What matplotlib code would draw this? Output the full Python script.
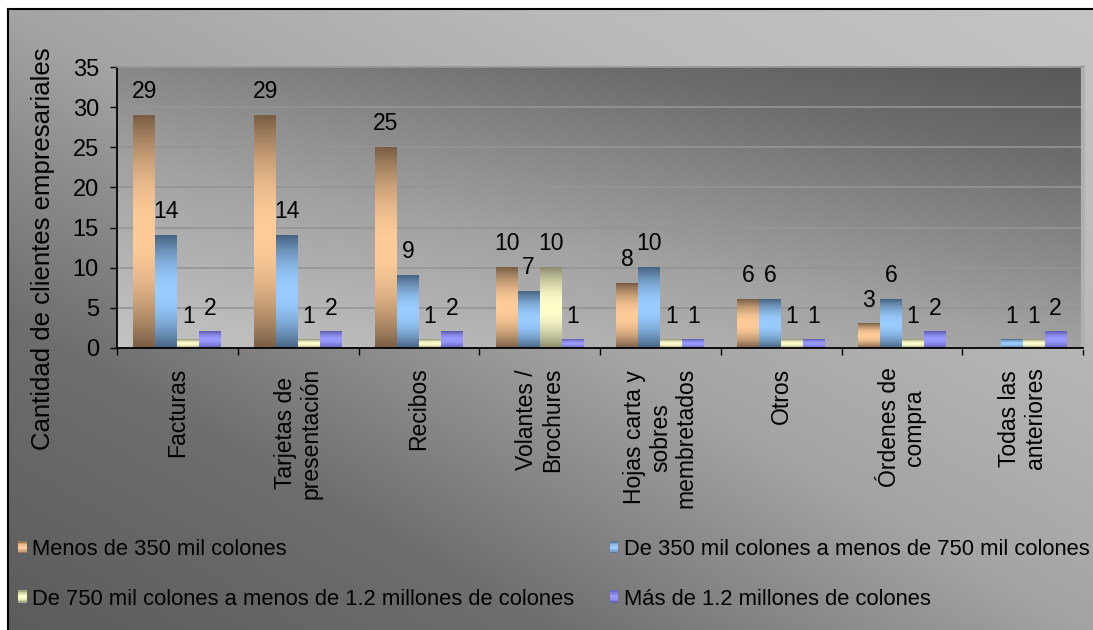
import numpy as np
import matplotlib
matplotlib.use("Agg")
import matplotlib.pyplot as plt
from matplotlib.patches import Rectangle, Patch
from matplotlib.legend_handler import HandlerBase
from matplotlib.lines import Line2D

plt.rcParams['font.family'] = ['Liberation Sans', 'DejaVu Sans']

# ---- data ----
categories = [
    'Facturas',
    'Tarjetas de\npresentación',
    'Recibos',
    'Volantes /\nBrochures',
    'Hojas carta y\nsobres\nmembretados',
    'Otros',
    'Órdenes de\ncompra',
    'Todas las\nanteriores',
]
series_names = [
    'Menos de 350 mil colones',
    'De 350 mil colones a menos de 750 mil colones',
    'De 750 mil colones a menos de 1.2 millones de colones',
    'Más de 1.2 millones de colones',
]
menos_350 = [29, 29, 25, 10, 8, 6, 3, 0]
de_350_a_750 = [14, 14, 9, 7, 10, 6, 6, 1]
de_750_a_1200 = [1, 1, 1, 10, 1, 1, 1, 1]
mas_1200 = [2, 2, 2, 1, 1, 1, 2, 2]
y_ticks = [0, 5, 10, 15, 20, 25, 30, 35]
y_label = 'Cantidad de clientes empresariales'

series = [menos_350, de_350_a_750, de_750_a_1200, mas_1200]
light_colors = [(255, 204, 153), (153, 204, 255), (255, 255, 204), (153, 153, 255)]
dark_colors = [(122, 95, 70), (72, 100, 130), (140, 140, 112), (90, 90, 170)]

W, H = 1093, 630
fig = plt.figure(figsize=(W / 100, H / 100), dpi=100)
fig.patch.set_facecolor('white')


def px_rect(x0, y0, x1, y1):
    return [x0 / W, 1 - y1 / H, (x1 - x0) / W, (y1 - y0) / H]


def shade_column(light, dark, n=64):
    t = np.linspace(0, 1, n)
    w = np.sin(np.pi * t) ** 0.9
    light = np.array(light) / 255
    dark = np.array(dark) / 255
    col = dark[None, :] + (light - dark)[None, :] * w[:, None]
    return col[:, None, :]


def shade_at(light, dark, t):
    w = np.sin(np.pi * t) ** 0.9
    light = np.array(light) / 255
    dark = np.array(dark) / 255
    return tuple(dark + (light - dark) * w)


# ---- chart area background ----
bg = fig.add_axes(px_rect(8, 9, W, H), zorder=-10)
bg.set_axis_off()
u = np.linspace(0, 1, 400)[None, :]
v = np.linspace(1, 0, 250)[:, None]
g = np.interp((u + v) / 2, [0, 0.25, 0.5, 0.75, 1], [92, 110, 164, 186, 196]) / 255
bg.imshow(np.dstack([g, g, g]), extent=(0, 1, 0, 1), aspect='auto', interpolation='bilinear')
bg.set_xlim(0, 1)
bg.set_ylim(0, 1)

# outer frame (left and top edges)
fig.add_artist(Line2D([8 / W, 8 / W], [0, 1 - 9 / H], transform=fig.transFigure, color='black', lw=1.5))
fig.add_artist(Line2D([8 / W, 1], [1 - 9 / H, 1 - 9 / H], transform=fig.transFigure, color='black', lw=1.5))

# ---- plot area ----
ax = fig.add_axes(px_rect(117, 67, 1083, 348))
ax.patch.set_visible(False)
n_cat = len(categories)
pu = np.linspace(0, 1, 400)[None, :]
pv = np.linspace(1, 0, 250)[:, None]
pg = np.interp(0.4 * pu + 0.6 * pv, [0, 0.4, 0.6, 0.8, 1], [196, 162, 136, 108, 88]) / 255
ax.imshow(np.dstack([pg, pg, pg]), extent=(0, n_cat, 0, 35), aspect='auto',
          interpolation='bilinear', zorder=0)

ax.set_axisbelow(True)
ax.set_yticks(y_ticks)
ax.yaxis.grid(True, color='#959595', lw=1.2)

bar_w = 0.182
centers = np.arange(n_cat) + 0.5
for k, vals in enumerate(series):
    xs = centers + (k - 1.5) * bar_w
    light = tuple(c / 255 for c in light_colors[k])
    bars = ax.bar(xs, vals, bar_w, color=light, linewidth=0, zorder=2)
    img = shade_column(light_colors[k], dark_colors[k])
    for rect, val in zip(bars, vals):
        if val <= 0:
            continue
        x0 = rect.get_x()
        ax.imshow(img, extent=(x0, x0 + rect.get_width(), 0, rect.get_height()),
                  aspect='auto', interpolation='bilinear', zorder=2.1)
        ax.annotate(str(val), (rect.get_x() + rect.get_width() / 2, val),
                    xytext=(0, 12.5), textcoords='offset points',
                    ha='center', va='baseline', fontsize=16.5, color='black', zorder=3)

ax.set_xlim(0, n_cat)
ax.set_ylim(0, 35)

# axes styling
for side in ('left', 'bottom'):
    ax.spines[side].set_color('black')
    ax.spines[side].set_linewidth(1.3)
ax.spines['top'].set_color('#959595')
ax.spines['top'].set_linewidth(1.2)
ax.spines['right'].set_color('#b0b0b0')
ax.spines['right'].set_linewidth(3)

ax.tick_params(axis='y', labelsize=17, length=5, width=1, pad=8, colors='black')
ax.set_xticks(np.arange(n_cat + 1))
ax.set_xticklabels([])
ax.tick_params(axis='x', which='major', length=5, width=1, direction='out', colors='black')
ax.set_xticks(centers, minor=True)
ax.set_xticklabels(categories, minor=True, rotation=90, fontsize=16.5)
ax.tick_params(axis='x', which='minor', length=0, pad=14)
for lbl in ax.get_xticklabels(minor=True):
    lbl.set_multialignment('center')
    lbl.set_linespacing(1.15)

fig.text(43 / W, 1 - 249 / H, y_label, rotation=90, ha='center', va='center', fontsize=18.5)


# ---- legend ----
class ShadedSquare(HandlerBase):
    def __init__(self, light, dark):
        super().__init__()
        self.light = light
        self.dark = dark

    def create_artists(self, legend, orig_handle, xdescent, ydescent,
                       width, height, fontsize, trans):
        n = 8
        arts = []
        for j in range(n):
            t = (j + 0.5) / n
            arts.append(Rectangle((-xdescent, -ydescent + height * j / n), width, height / n,
                                  facecolor=shade_at(self.light, self.dark, t),
                                  edgecolor='none', transform=trans))
        return arts


proxies = [Patch(facecolor=tuple(c / 255 for c in light_colors[k])) for k in range(4)]
hmap = {proxies[k]: ShadedSquare(light_colors[k], dark_colors[k]) for k in range(4)}
order = [0, 2, 1, 3]
fig.legend([proxies[i] for i in order], [series_names[i] for i in order],
           handler_map=hmap, ncol=2, loc='upper left',
           bbox_to_anchor=(18 / W, 1 - 539 / H), frameon=False, fontsize=15.8,
           handlelength=0.4, handleheight=0.5, handletextpad=0.25,
           columnspacing=1.6, labelspacing=1.3, borderpad=0, borderaxespad=0)

fig.savefig('out.png', dpi=100)
